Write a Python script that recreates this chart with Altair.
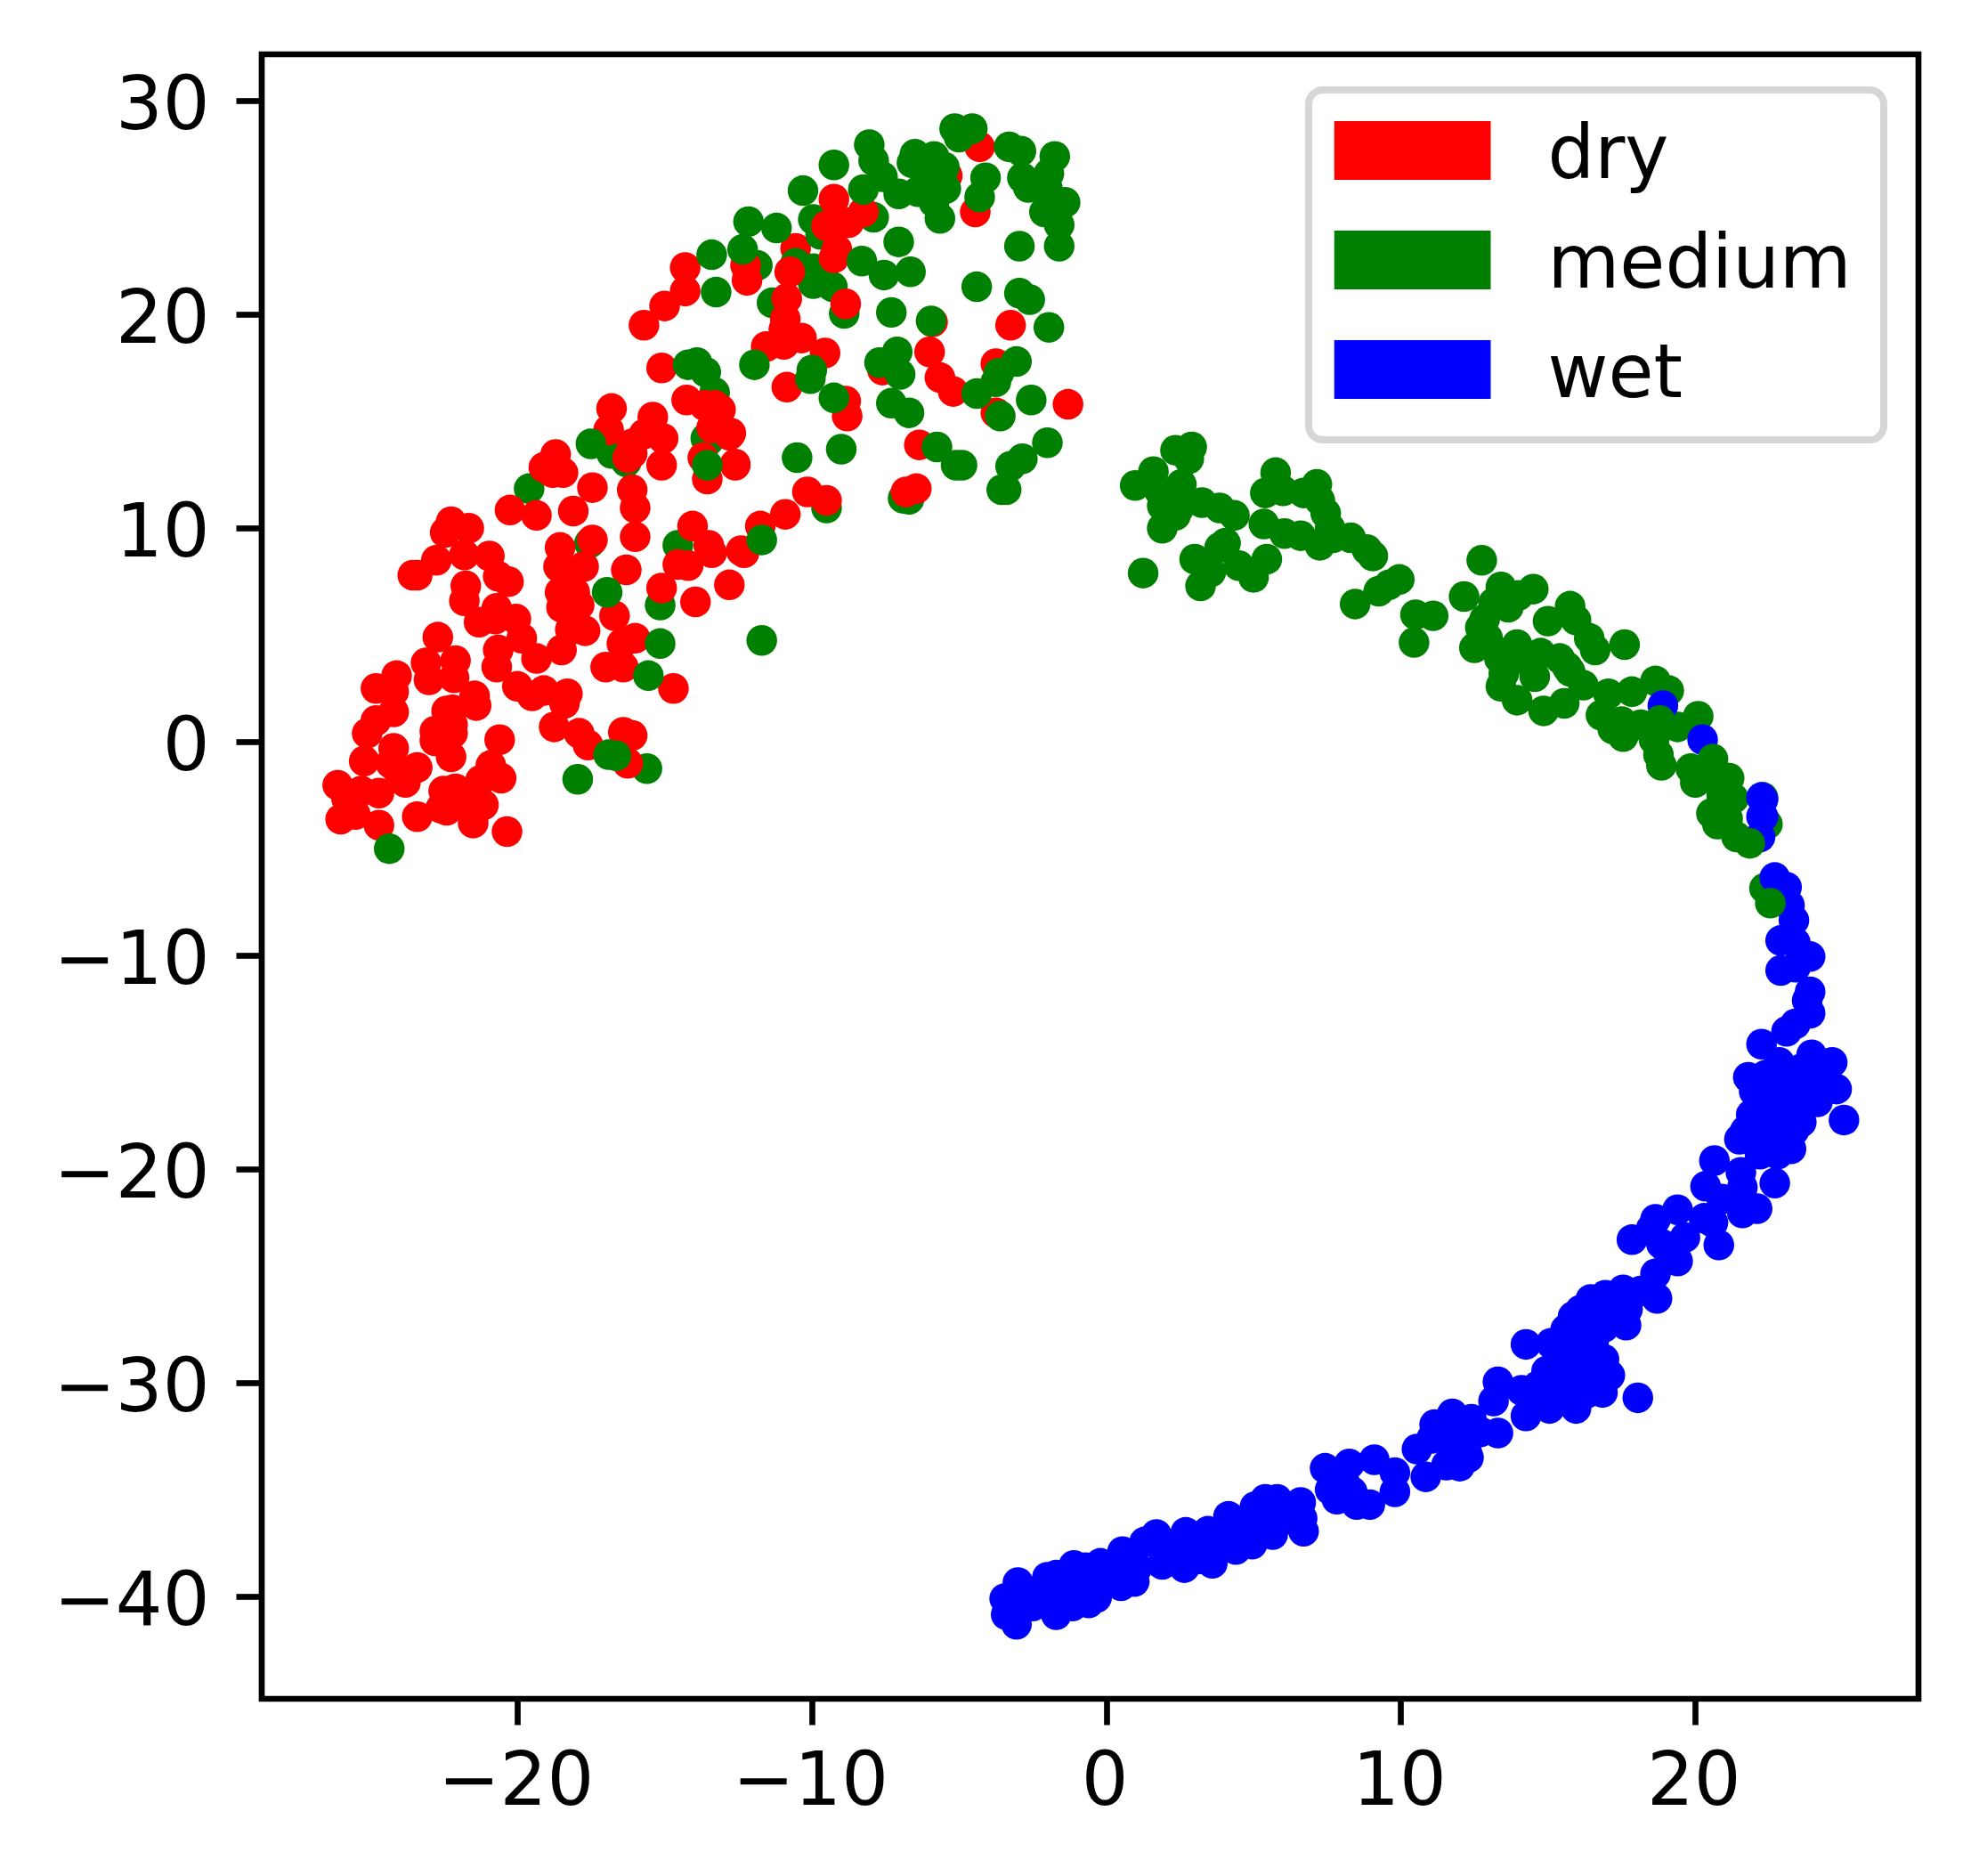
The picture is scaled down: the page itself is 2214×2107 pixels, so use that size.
import altair as alt
import pandas as pd

dry_under = [(-10.55, 23.1)]

medium_under = [
    (-19.6, 11.85), (-16.8, 13.5), (-16.3, 13.1), (-17.55, 9.3), (-15.15, 6.4), (-14.55, 9.2), (-13.6, 14.2),
    (-9.95, 24.45), (-7.9, 24.55), (-9.7, 23.75), (-11.85, 22.3), (-10.55, 22.4), (-9.95, 22.15), (-9.95, 21.45),
    (-9.3, 21.3), (-11.35, 20.55), (-8.9, 20.05), (-13.3, 16.35), (-13.5, 14.1), (-15.6, -1.25), (-9.5, 10.95),
    (-6.7, 11.35), (-6.9, 11.4), (18.65, 2.85), (19.1, 2.4), (17.85, 2.35), (20.1, 1.2), (19.4, 0.7),
]

dry = [
    (-26.1, -2.03), (-26.0, -3.62), (-25.5, -3.4), (-25.8, -2.65), (-25.3, -2.3), (-24.7, -2.4), (-24.7, -3.9),
    (-25.2, -0.9), (-25.1, 0.4), (-24.8, 1.0), (-24.2, 1.4), (-24.8, 2.5), (-24.2, 2.35), (-24.1, 3.1),
    (-24.2, -0.3), (-24.3, -1.0), (-24.1, -1.25), (-23.8, -1.9), (-23.4, -1.2), (-23.4, -3.5), (-23.1, 3.7),
    (-23.0, 2.9), (-22.1, 3.8), (-22.15, 3.0), (-22.7, 4.9), (-21.45, 2.15), (-21.4, 1.7), (-22.4, 1.45),
    (-22.2, 1.5), (-22.2, 0.8), (-22.8, 0.5), (-22.8, 0.05), (-22.2, 0.4), (-22.25, -0.7), (-20.6, 0.1),
    (-20.9, -1.1), (-20.55, -1.7), (-21.25, -1.8), (-22.5, -2.3), (-22.1, -2.2), (-22.6, -3.1), (-22.4, -3.2),
    (-21.15, -2.95), (-21.5, -3.8), (-20.35, -4.2), (-21.85, -2.8),
    (-23.55, 7.8), (-23.4, 7.8), (-22.75, 8.5), (-22.25, 10.3), (-22.45, 9.8), (-21.65, 10.0), (-21.8, 8.75),
    (-20.95, 8.7), (-21.75, 7.3), (-21.8, 6.6), (-20.65, 7.75), (-20.3, 7.5), (-20.7, 6.25), (-21.3, 5.6),
    (-20.75, 5.75), (-20.05, 5.75), (-19.85, 4.85), (-20.65, 4.3), (-20.7, 3.5), (-19.35, 3.9), (-20.0, 2.6),
    (-19.5, 2.15), (-19.1, 2.4), (-18.3, 2.25), (-18.4, 1.8), (-18.75, 0.7), (-17.9, 0.4), (-17.6, -0.15),
    (-16.4, 0.45), (-16.1, 0.3), (-16.25, -1.0), (-18.5, 4.3), (-17.7, 5.2), (-18.2, 5.25), (-16.7, 5.9),
    (-16.0, 4.85), (-16.45, 4.6), (-17.0, 3.5), (-16.4, 3.5), (-14.7, 2.5), (-18.5, 6.3), (-17.9, 6.4),
    (-18.55, 7.0), (-18.05, 7.0), (-18.6, 8.2), (-17.75, 8.2), (-18.55, 9.1), (-17.45, 9.45), (-18.2, 7.6),
    (-16.3, 8.05), (-15.1, 7.2), (-13.95, 6.55), (-12.8, 7.35), (-14.2, 8.25), (-14.55, 8.3), (-13.4, 8.85),
    (-12.3, 8.85), (-14.05, 10.1), (-16.0, 9.6), (-16.0, 10.95), (-16.1, 11.8), (-17.45, 11.9), (-18.1, 10.8),
    (-19.35, 10.6), (-20.25, 10.85), (-19.0, 12.9), (-18.7, 13.45), (-18.45, 12.6), (-19.1, 12.85), (-18.8, 12.6),
    (-16.25, 13.3), (-16.1, 13.95), (-15.1, 12.95), (-15.05, 14.2), (-16.9, 14.6), (-13.7, 13.3), (-13.55, 12.3),
    (-12.6, 13.0), (-12.8, 14.35),
    (-16.8, 15.6), (-15.4, 15.2), (-15.7, 14.4), (-16.1, 13.5), (-14.25, 16.0), (-13.65, 15.75), (-13.3, 15.75),
    (-13.4, 14.7), (-15.1, 17.5), (-15.7, 19.5), (-15.0, 20.4), (-14.3, 21.1), (-14.3, 22.2), (-11.75, 10.1),
    (-10.9, 10.65), (-12.4, 8.95), (-13.5, 9.2),
    (-4.3, 27.85), (-5.4, 26.5), (-4.45, 24.8), (-9.25, 25.4), (-9.5, 24.15), (-9.05, 24.4), (-8.25, 24.8),
    (-8.75, 24.3), (-9.15, 23.05), (-9.25, 22.65), (-12.25, 22.3), (-12.2, 21.6), (-10.75, 22.0), (-10.85, 20.75),
    (-10.9, 19.8), (-10.95, 19.3), (-10.35, 18.9), (-11.55, 18.5), (-10.95, 18.6), (-9.55, 18.2), (-8.85, 20.5),
    (-10.85, 16.6), (-8.85, 15.95), (-8.8, 15.25), (-5.9, 19.65), (-3.25, 19.5), (-6.0, 18.25), (-5.65, 17.05),
    (-5.2, 16.4), (-3.75, 17.7), (-7.6, 17.4), (-3.75, 15.4), (-1.3, 15.8), (-6.35, 13.9), (-12.75, 14.45),
    (-12.6, 12.95), (-13.1, 15.55), (-10.15, 11.7), (-9.5, 11.3), (-6.8, 11.7), (-6.45, 11.85),
]

wet_under = [(18.9, 1.7), (20.25, 0.1)]

medium_over = [
    (-17.5, 13.95), (-16.95, 7.0), (-15.15, 4.6), (-15.55, 3.1), (-16.9, -0.6), (-16.65, -0.65), (-17.95, -1.75),
    (-24.35, -5.0), (-13.55, 12.95), (-13.9, 17.75), (-14.2, 17.65), (-13.6, 17.3), (-11.7, 4.75), (-11.7, 9.45),
    (-5.15, 28.7), (-4.55, 28.7), (-5.0, 28.3), (-3.3, 27.85), (-2.9, 27.65), (-1.75, 27.4), (-1.95, 26.6),
    (-2.85, 26.4), (-2.65, 25.95), (-2.0, 25.9), (-1.4, 25.25), (-2.1, 24.8), (-1.6, 24.2), (-1.6, 23.2),
    (-2.95, 23.2), (-4.1, 26.4), (-4.3, 25.5), (-8.05, 27.95), (-7.9, 27.2), (-7.6, 26.45), (-8.25, 25.85),
    (-7.05, 25.65), (-6.5, 27.5), (-6.4, 25.75), (-5.85, 27.4), (-5.8, 26.6), (-5.9, 25.8), (-5.45, 25.9),
    (-5.65, 24.5), (-5.85, 25.25), (-6.2, 26.9), (-6.1, 26.2), (-5.5, 26.9), (-6.6, 27.1), (-9.25, 27.0), (-10.3, 25.8),
    (-12.15, 24.35), (-11.2, 24.05), (-7.05, 23.4),
    (-12.35, 23.05), (-13.4, 22.8), (-13.25, 21.05), (-8.3, 22.5), (-7.55, 21.85), (-6.65, 22.0), (-7.3, 20.1),
    (-5.95, 19.7), (-4.4, 21.3), (-2.95, 21.0), (-2.6, 20.7), (-1.95, 19.4), (-11.95, 17.65), (-10.0, 17.4),
    (-10.05, 17.0), (-9.25, 16.1), (-7.7, 17.75), (-7.1, 18.25), (-7.0, 17.2), (-7.3, 15.85), (-6.7, 15.4),
    (-3.05, 17.8), (-3.65, 17.25), (-3.75, 16.85), (-4.4, 16.3), (-3.6, 15.25), (-2.55, 16.0), (-9.0, 13.7),
    (-10.5, 13.3), (-5.75, 13.8), (-5.1, 12.95), (-4.9, 12.95), (-2.0, 14.0), (-2.85, 13.25), (-3.25, 12.9),
    (-3.55, 11.8), (-3.4, 11.8),
    (0.98, 12.0), (1.6, 12.65), (2.35, 13.65), (2.9, 13.8), (2.8, 13.25), (1.8, 11.75), (2.55, 12.05), (1.9, 11.05),
    (2.35, 10.6), (1.9, 10.0), (2.45, 10.9), (3.25, 11.2), (3.85, 10.95), (4.35, 10.6), (1.25, 7.9), (3.0, 8.55),
    (3.2, 7.3), (3.85, 9.1), (4.05, 9.3), (4.5, 8.25), (5.0, 7.7), (5.45, 8.55), (3.55, 7.95), (5.35, 10.2),
    (5.4, 11.65), (5.75, 12.6), (6.0, 11.75), (6.05, 9.75), (6.6, 9.65), (7.15, 12.05), (6.7, 11.65), (7.25, 11.3),
    (7.45, 10.7), (7.6, 10.0), (7.25, 9.2), (7.7, 9.55), (8.3, 9.55), (8.85, 9.0), (9.05, 8.7), (8.45, 6.45),
    (9.25, 7.05), (9.95, 7.6), (9.6, 7.35), (10.45, 4.65), (10.5, 5.95), (11.1, 5.9),
    (12.75, 8.5), (12.15, 6.8), (13.4, 7.25), (14.5, 7.15), (14.0, 6.85), (13.65, 6.3), (13.15, 6.5), (12.85, 5.75),
    (12.7, 5.35), (12.95, 4.85), (12.5, 4.4), (15.75, 6.35), (15.0, 5.65), (15.95, 5.7), (16.4, 4.85), (16.6, 4.3),
    (17.6, 4.55), (13.95, 4.55), (13.65, 4.2), (13.35, 3.9), (14.75, 4.15), (15.4, 3.9), (14.55, 3.05), (14.05, 3.9),
    (13.5, 3.2), (13.4, 2.6), (13.95, 1.95), (14.85, 1.45), (15.55, 1.8), (15.75, 3.3), (16.2, 2.65), (15.65, 3.5),
    (17.05, 2.25), (16.8, 1.25), (17.2, 0.6), (17.55, 0.25), (17.5, 0.95),
    (18.15, 0.8), (18.8, 1.0), (18.6, 0.1), (18.75, -0.6), (18.85, -1.1), (19.85, -1.25),
    (20.0, -1.9), (20.6, -0.8), (20.7, -1.4), (21.15, -1.7), (21.3, -2.65), (20.55, -3.35), (20.75, -3.85),
    (20.9, -2.5), (21.4, -4.45), (21.1, -3.6), (22.3, -2.6), (22.45, -3.85), (22.35, -6.85),
]

wet = [
    (22.25, -2.6), (22.25, -3.5), (22.2, -4.45), (22.3, -2.7), (22.3, -3.5),
    (22.7, -6.35), (23.1, -6.8), (23.2, -7.65), (23.35, -8.35), (22.9, -9.3), (23.4, -9.4), (23.9, -10.05),
    (22.9, -10.7), (23.4, -10.55), (23.9, -11.7), (23.8, -12.1), (23.9, -12.7), (23.4, -13.2), (23.1, -13.55),
    (22.25, -14.15), (23.95, -14.65), (24.65, -15.0), (22.85, -15.0), (21.8, -15.7), (22.4, -15.6), (22.0, -16.35),
    (22.7, -16.0), (23.3, -15.85), (24.0, -15.85), (24.3, -15.55), (24.8, -16.25), (24.15, -16.85), (23.3, -16.7),
    (22.7, -16.95), (22.3, -16.7), (21.9, -17.45), (22.8, -17.65), (25.05, -17.7), (23.35, -18.2), (22.4, -17.95),
    (21.5, -18.6), (22.15, -18.6), (23.25, -19.05), (22.8, -19.3), (22.2, -19.3), (22.7, -20.65), (20.65, -19.6),
    (23.0, -16.3), (23.5, -17.2), (22.5, -17.3), (23.0, -18.4), (22.5, -18.6), (23.7, -16.3), (22.3, -15.9),
    (21.7, -18.2), (23.6, -17.8), (22.9, -15.6), (23.6, -15.3),
    (21.55, -20.15), (21.6, -20.85), (20.35, -20.8), (20.9, -21.4), (21.6, -21.4), (22.1, -21.85), (21.6, -22.05),
    (19.4, -21.9), (18.65, -22.35), (18.5, -22.8), (20.3, -22.3), (20.6, -22.5), (17.85, -23.3), (19.65, -23.2),
    (20.8, -23.55), (18.85, -23.5), (19.0, -23.7), (19.4, -24.3), (18.65, -24.9), (18.7, -26.05), (18.15, -25.7),
    (17.55, -25.65), (16.95, -25.9), (16.45, -26.1), (17.7, -26.55), (17.65, -27.3), (15.85, -26.9), (16.65, -27.1),
    (15.1, -28.15), (14.25, -28.2), (15.85, -27.8), (16.55, -28.05), (16.9, -28.9), (17.1, -29.65), (14.95, -29.45),
    (15.55, -29.3), (16.35, -29.2), (16.85, -30.45), (18.05, -30.7), (15.95, -31.2), (15.05, -31.2), (14.25, -31.55),
    (14.65, -30.15), (15.75, -30.4), (14.1, -30.35), (13.3, -29.95), (13.15, -30.85), (13.3, -32.35), (12.4, -31.7),
    (12.3, -33.5),
    (15.3, -29.0), (15.6, -28.8), (15.9, -29.5), (16.2, -29.9), (15.4, -30.0), (15.7, -29.9), (15.1, -29.9),
    (16.0, -28.7), (16.4, -28.5), (15.5, -28.6), (14.9, -30.7), (15.4, -30.8), (16.3, -30.5), (16.5, -29.7),
    (16.2, -27.6), (17.0, -26.6), (16.9, -27.4), (15.6, -27.5), (16.1, -26.6),
    (11.75, -31.45), (11.15, -31.95), (10.55, -33.1), (10.85, -34.4), (11.55, -33.85), (12.25, -33.3), (11.05, -32.6),
    (11.9, -32.2), (12.7, -32.3), (12.3, -32.0), (11.7, -32.8), (12.0, -33.9),
    (7.43, -34.0), (8.25, -33.8), (9.1, -33.6), (9.8, -34.2), (9.8, -35.1), (8.95, -35.7), (8.5, -35.7),
    (7.83, -35.45), (7.6, -35.0), (8.1, -34.7), (8.35, -35.1), (6.6, -35.6), (6.65, -36.35), (6.7, -36.95),
    (5.4, -35.45), (5.8, -35.45), (5.05, -35.8), (5.65, -37.1), (4.95, -37.55), (4.4, -37.8), (4.15, -36.25),
    (5.0, -36.75), (4.5, -37.0), (3.45, -36.95), (3.6, -38.45), (2.7, -37.0), (2.65, -38.65), (3.1, -37.7),
    (2.1, -38.1), (1.7, -37.1), (1.3, -37.45), (0.55, -37.9), (1.05, -38.65), (0.95, -39.3), (0.5, -39.5),
    (-0.2, -38.45), (-0.7, -38.65), (-1.1, -38.55), (-2.0, -39.1), (-1.7, -39.0), (-0.33, -40.05), (-0.6, -40.3),
    (-3.45, -40.1), (-3.4, -40.85), (-3.05, -41.3), (-3.0, -39.35), (-3.05, -40.3), (-2.5, -40.45), (-1.7, -40.85),
    (-2.2, -39.9), (-1.15, -40.45), (-1.55, -39.65), (-0.7, -39.5), (0.15, -39.1), (2.05, -38.25), (2.6, -38.0),
    (5.25, -36.35), (5.9, -36.5), (3.95, -37.55), (3.1, -38.25), (6.1, -36.2),
    (-2.5, -39.8), (-2.0, -40.3), (-1.0, -39.9), (-0.4, -39.4), (0.6, -39.0), (3.0, -37.3), (4.8, -36.5), (5.3, -37.0),
    (4.0, -37.0), (2.4, -37.5), (1.9, -38.5), (-3.2, -40.7),
]

medium_top = [(22.55, -7.55), (21.85, -4.75)]

categories = ["dry", "medium", "wet"]
colors = ["#ff0000", "#008000", "#0000ff"]
x_ticks = [-20, -10, 0, 10, 20]
y_ticks = [-40, -30, -20, -10, 0, 10, 20, 30]

groups = [
    ("dry", dry_under), ("medium", medium_under), ("dry", dry), ("wet", wet_under),
    ("medium", medium_over), ("wet", wet), ("medium", medium_top),
]
rows = []
for layer, (label, pts) in enumerate(groups):
    for px, py in pts:
        rows.append({"x": px, "y": py, "label": label, "layer": layer})
df = pd.DataFrame(rows)

FONT = "DejaVu Sans"
axis_common = dict(
    title=None, grid=False, domain=False, tickSize=29, tickWidth=6.67, tickColor="black",
    labelFont=FONT, labelFontSize=83, labelColor="black", labelOverlap=False, labelBound=False,
    labelFlush=False, format="d",
)

chart = (
    alt.Chart(df)
    .mark_circle(size=1190, opacity=1)
    .encode(
        x=alt.X("x:Q", scale=alt.Scale(domain=[-28.68, 27.58], nice=False, zero=False),
                axis=alt.Axis(values=x_ticks, labelPadding=23, labelOffset=-2, **axis_common)),
        y=alt.Y("y:Q", scale=alt.Scale(domain=[-44.79, 32.18], nice=False, zero=False),
                axis=alt.Axis(values=y_ticks, labelPadding=30, labelOffset=6, **axis_common)),
        color=alt.Color(
            "label:N",
            scale=alt.Scale(domain=categories, range=colors),
            legend=alt.Legend(
                title=" ", titleOrient="right", titlePadding=8, titleFontSize=10,
                orient="none", legendX=1176, legendY=40,
                symbolType="M-1,-0.4375H1V0.3125H-1Z", symbolSize=30976, symbolStrokeWidth=0,
                padding=28.5, clipHeight=90, rowPadding=33, labelOffset=64,
                labelFont=FONT, labelFontSize=83, labelColor="black", labelLimit=600,
                strokeColor="#d6d6d6", fillColor="white", cornerRadius=16,
            ),
        ),
        order=alt.Order("layer:Q"),
    )
    .properties(
        width=1861, height=1847,
        autosize=alt.AutoSizeParams(type="none"),
        padding={"left": 286, "top": 53, "right": 50, "bottom": 190},
    )
    .configure_view(stroke="black", strokeWidth=6.67, fill="white")
    .configure_legend(strokeWidth=8)
)

chart.save("out.html", embed_options={"renderer": "svg", "actions": False})
